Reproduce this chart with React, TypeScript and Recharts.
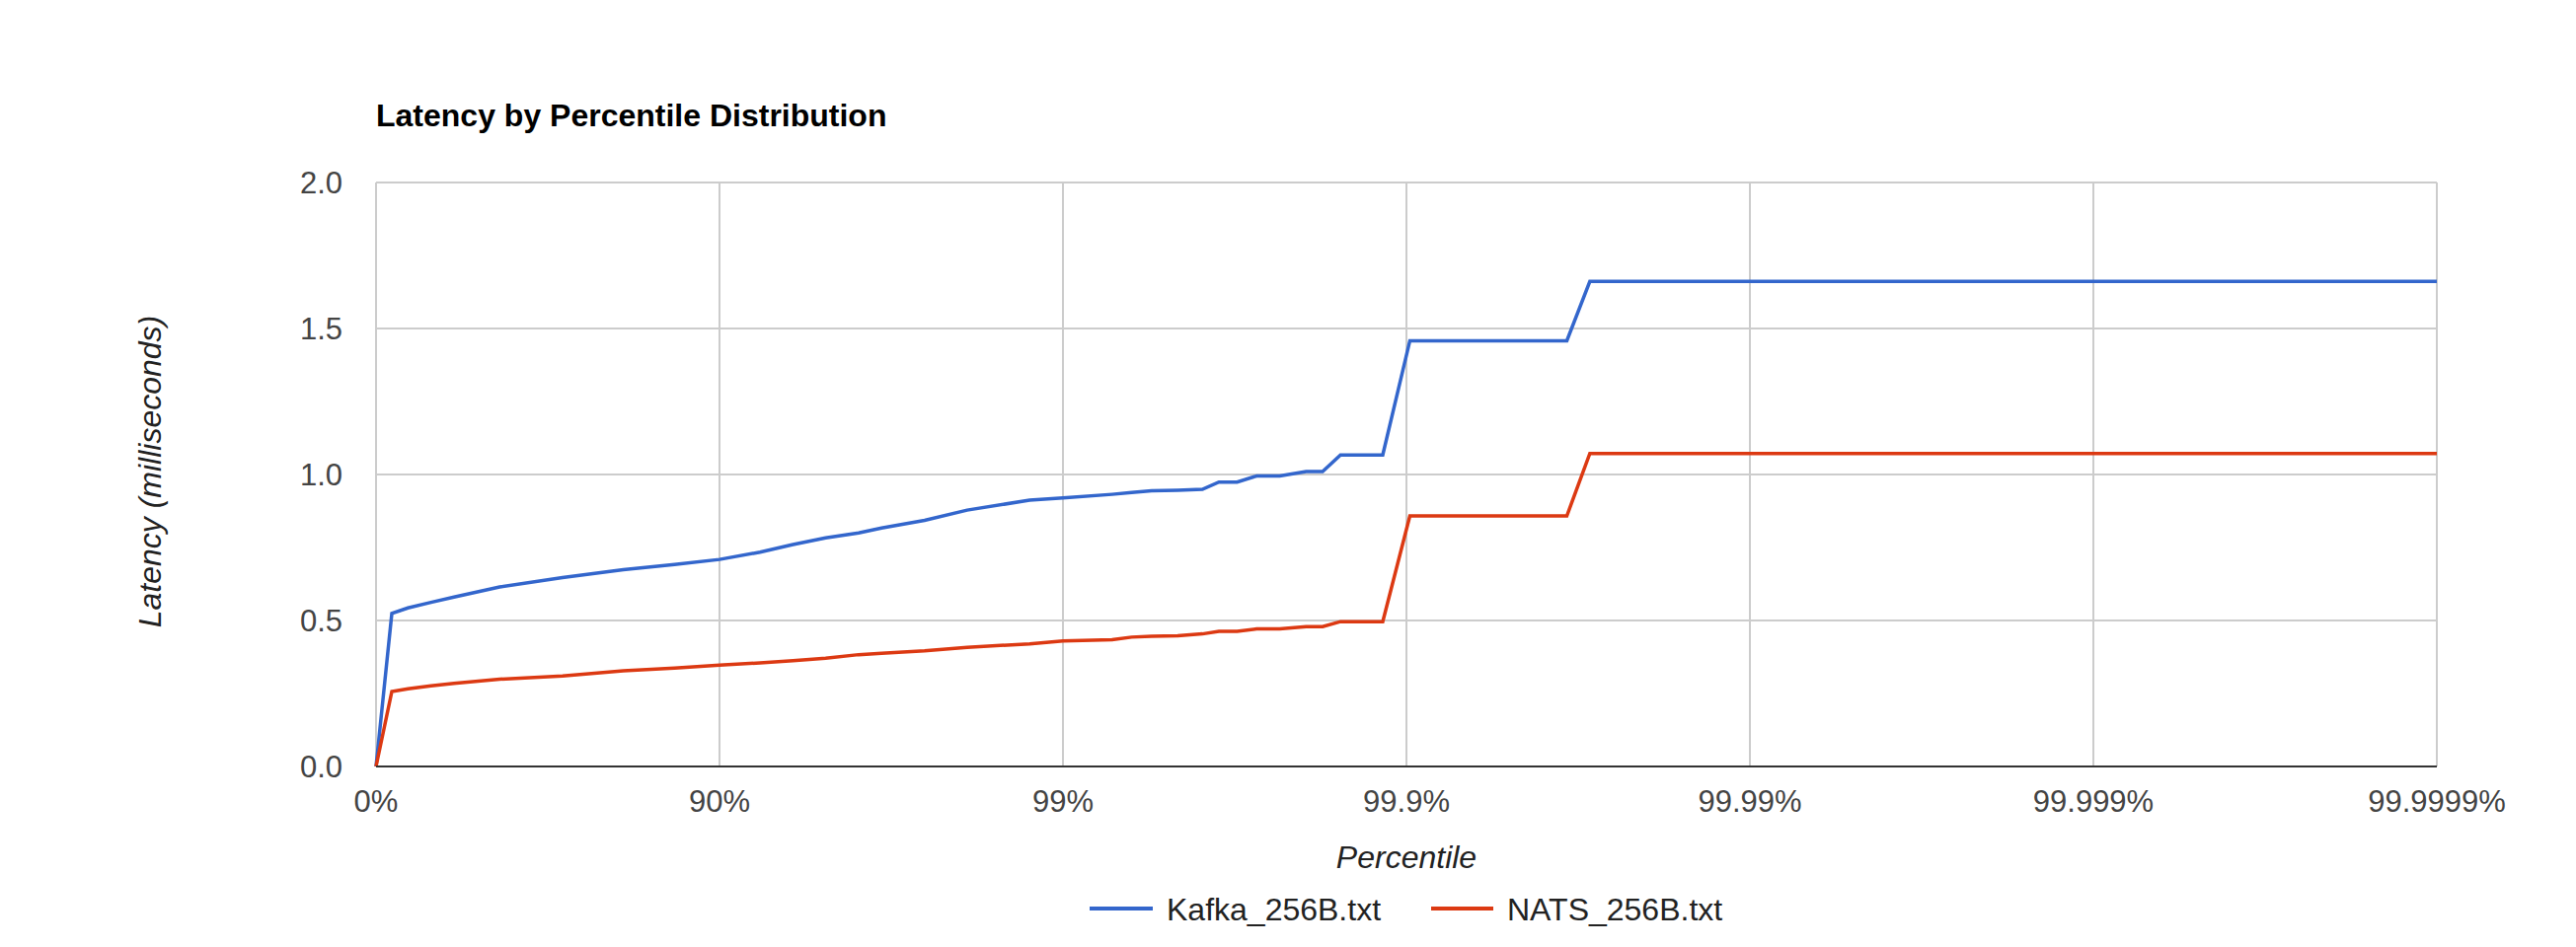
import React from "react";
import { LineChart, Line, XAxis, YAxis, CartesianGrid } from "recharts";

// x position of each sample on the log percentile axis (0 = 0%, 1 = 90%, 2 = 99%, ...)
const percentilePos = [
  0, 0.046, 0.093, 0.16, 0.227, 0.36, 0.543, 0.72, 0.869, 1.0, 1.118, 1.214, 1.309, 1.405,
  1.472, 1.597, 1.721, 1.903, 2.0, 2.143, 2.2, 2.258, 2.334, 2.406, 2.454, 2.507, 2.564,
  2.631, 2.708, 2.756, 2.808, 2.931, 3.01, 3.467, 3.534, 6.0,
];

const kafka = [
  0, 0.524, 0.543, 0.562, 0.58, 0.615, 0.647, 0.674, 0.692, 0.709, 0.734, 0.76, 0.783, 0.8,
  0.817, 0.843, 0.878, 0.912, 0.92, 0.932, 0.938, 0.944, 0.946, 0.949, 0.974, 0.974, 0.995,
  0.995, 1.01, 1.01, 1.067, 1.067, 1.458, 1.458, 1.661, 1.661,
];

const nats = [
  0, 0.257, 0.266, 0.276, 0.285, 0.299, 0.31, 0.328, 0.337, 0.347, 0.355, 0.362, 0.371, 0.383,
  0.388, 0.396, 0.408, 0.42, 0.43, 0.434, 0.443, 0.446, 0.448, 0.454, 0.463, 0.463, 0.471,
  0.471, 0.479, 0.479, 0.496, 0.496, 0.858, 0.858, 1.072, 1.072,
];

const xTicks = [0, 1, 2, 3, 4, 5, 6];
const xTickLabels = ["0%", "90%", "99%", "99.9%", "99.99%", "99.999%", "99.9999%"];
const yTicks = [0, 0.5, 1, 1.5, 2];

const seriesNames = ["Kafka_256B.txt", "NATS_256B.txt"];
const seriesColors = ["#3366cc", "#dc3912"];

const data = percentilePos.map((x, i) => ({ x, kafka: kafka[i], nats: nats[i] }));

const FONT = "'Liberation Sans', Arial, sans-serif";

export default function App() {
  return (
    <div style={{ position: "absolute", left: 0, top: 0, width: 2610, height: 960, background: "#fff" }}>
      <LineChart
        width={2610}
        height={960}
        data={data}
        margin={{ top: 185, right: 141, bottom: 123, left: 321 }}
      >
        <CartesianGrid stroke="#cccccc" strokeWidth={2} horizontal vertical />
        <XAxis
          type="number"
          dataKey="x"
          domain={[0, 6]}
          ticks={xTicks}
          tickFormatter={(v: number) => xTickLabels[v] ?? ""}
          height={60}
          tickLine={false}
          tickSize={0}
          tickMargin={24}
          axisLine={{ stroke: "#333333", strokeWidth: 2 }}
          tick={{ fill: "#444444", fontSize: 31, fontFamily: FONT }}
          interval={0}
        />
        <YAxis
          type="number"
          domain={[0, 2]}
          ticks={yTicks}
          tickFormatter={(v: number) => v.toFixed(1)}
          width={60}
          tickLine={false}
          tickSize={0}
          tickMargin={34}
          axisLine={false}
          tick={{ fill: "#444444", fontSize: 31, fontFamily: FONT }}
          interval={0}
        />
        <Line
          type="linear"
          dataKey="kafka"
          name={seriesNames[0]}
          stroke={seriesColors[0]}
          strokeWidth={3.5}
          dot={false}
          isAnimationActive={false}
        />
        <Line
          type="linear"
          dataKey="nats"
          name={seriesNames[1]}
          stroke={seriesColors[1]}
          strokeWidth={3.5}
          dot={false}
          isAnimationActive={false}
        />
      </LineChart>
      <svg
        width={2610}
        height={960}
        style={{ position: "absolute", left: 0, top: 0, pointerEvents: "none" }}
      >
        <text x={381} y={128} fontFamily={FONT} fontSize={32} fontWeight="bold" fill="#000">
          Latency by Percentile Distribution
        </text>
        <text
          x={163}
          y={478}
          transform="rotate(-90 163 478)"
          textAnchor="middle"
          fontFamily={FONT}
          fontSize={32}
          fontStyle="italic"
          fill="#222"
        >
          Latency (milliseconds)
        </text>
        <text x={1425} y={880} textAnchor="middle" fontFamily={FONT} fontSize={32} fontStyle="italic" fill="#222">
          Percentile
        </text>
        <line x1={1104} x2={1168} y1={921} y2={921} stroke={seriesColors[0]} strokeWidth={4} />
        <text x={1182} y={933} fontFamily={FONT} fontSize={32} fill="#222">
          {seriesNames[0]}
        </text>
        <line x1={1450} x2={1513} y1={921} y2={921} stroke={seriesColors[1]} strokeWidth={4} />
        <text x={1527} y={933} fontFamily={FONT} fontSize={32} fill="#222">
          {seriesNames[1]}
        </text>
      </svg>
    </div>
  );
}
